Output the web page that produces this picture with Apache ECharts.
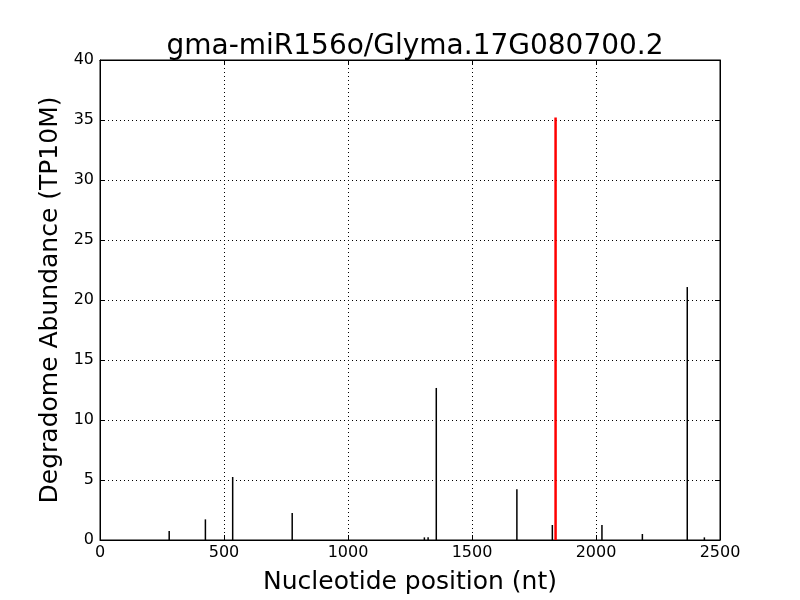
<!DOCTYPE html>
<html><head><meta charset="utf-8">
<script src="https://cdn.jsdelivr.net/npm/echarts@6/dist/echarts.min.js"></script>
<style>html,body{margin:0;padding:0;background:#fff}#c{width:800px;height:600px}</style>
</head><body><div id="c"></div>
<script>
const titleText = 'gma-miR156o/Glyma.17G080700.2';
const positions = [281, 427, 537, 777, 1310, 1325, 1358, 1683, 1826, 2026, 2189, 2370, 2439];
const abundances = [0.75, 1.72, 5.25, 2.25, 0.22, 0.22, 12.67, 4.22, 1.25, 1.25, 0.5, 21.08, 0.22];
const sitePositions = [1837];
const siteAbundances = [35.2];
const xTicks = [0, 500, 1000, 1500, 2000, 2500];
const yTicks = [0, 5, 10, 15, 20, 25, 30, 35, 40];

const font = 'DejaVu Sans';
const chart = echarts.init(document.getElementById('c'), null, {renderer: 'canvas'});
const gridLine = {show: true, lineStyle: {color: '#000', type: [1, 3], width: 1}};
const axisLine = {show: true, onZero: false, lineStyle: {color: '#000', width: 1}};
const tick = {show: true, inside: true, length: 5, lineStyle: {color: '#000'}};
chart.setOption({
  animation: false,
  backgroundColor: '#fff',
  title: {text: titleText, left: 410, textAlign: 'center', top: 28, textStyle: {fontFamily: font, fontSize: 28, fontWeight: 'normal', color: '#000'}},
  grid: {left: 100, right: 80, top: 60, bottom: 60, show: true, borderColor: '#000', borderWidth: 1},
  xAxis: [{
    type: 'value', min: 0, max: 2500, interval: 500, position: 'bottom',
    name: 'Nucleotide position (nt)', nameLocation: 'middle', nameGap: 30,
    nameTextStyle: {fontFamily: font, fontSize: 25, color: '#000'},
    axisLine: axisLine, axisTick: tick, splitLine: gridLine,
    axisLabel: {fontFamily: font, fontSize: 16, color: '#000', margin: 5, formatter: v => xTicks.includes(v) ? String(v) : ''}
  }, {
    type: 'value', min: 0, max: 2500, interval: 500, position: 'top',
    axisLine: axisLine, axisTick: tick, splitLine: {show: false}, axisLabel: {show: false}
  }],
  yAxis: [{
    type: 'value', min: 0, max: 40, interval: 5, position: 'left',
    name: 'Degradome Abundance (TP10M)', nameLocation: 'middle', nameGap: 34,
    nameTextStyle: {fontFamily: font, fontSize: 25, color: '#000'},
    axisLine: axisLine, axisTick: tick, splitLine: gridLine,
    axisLabel: {fontFamily: font, fontSize: 16, color: '#000', margin: 6, formatter: v => yTicks.includes(v) ? String(v) : ''}
  }, {
    type: 'value', min: 0, max: 40, interval: 5, position: 'right',
    axisLine: axisLine, axisTick: tick, splitLine: {show: false}, axisLabel: {show: false}
  }],
  series: [{
    type: 'bar', xAxisIndex: 0, yAxisIndex: 0, barWidth: 1.5, barGap: '-100%',
    itemStyle: {color: '#000'},
    data: positions.map((p, i) => [p, abundances[i]])
  }, {
    type: 'bar', xAxisIndex: 0, yAxisIndex: 0, barWidth: 2.5, barGap: '-100%',
    itemStyle: {color: '#ff0000'},
    data: sitePositions.map((p, i) => [p, siteAbundances[i]])
  }]
});
</script></body></html>
